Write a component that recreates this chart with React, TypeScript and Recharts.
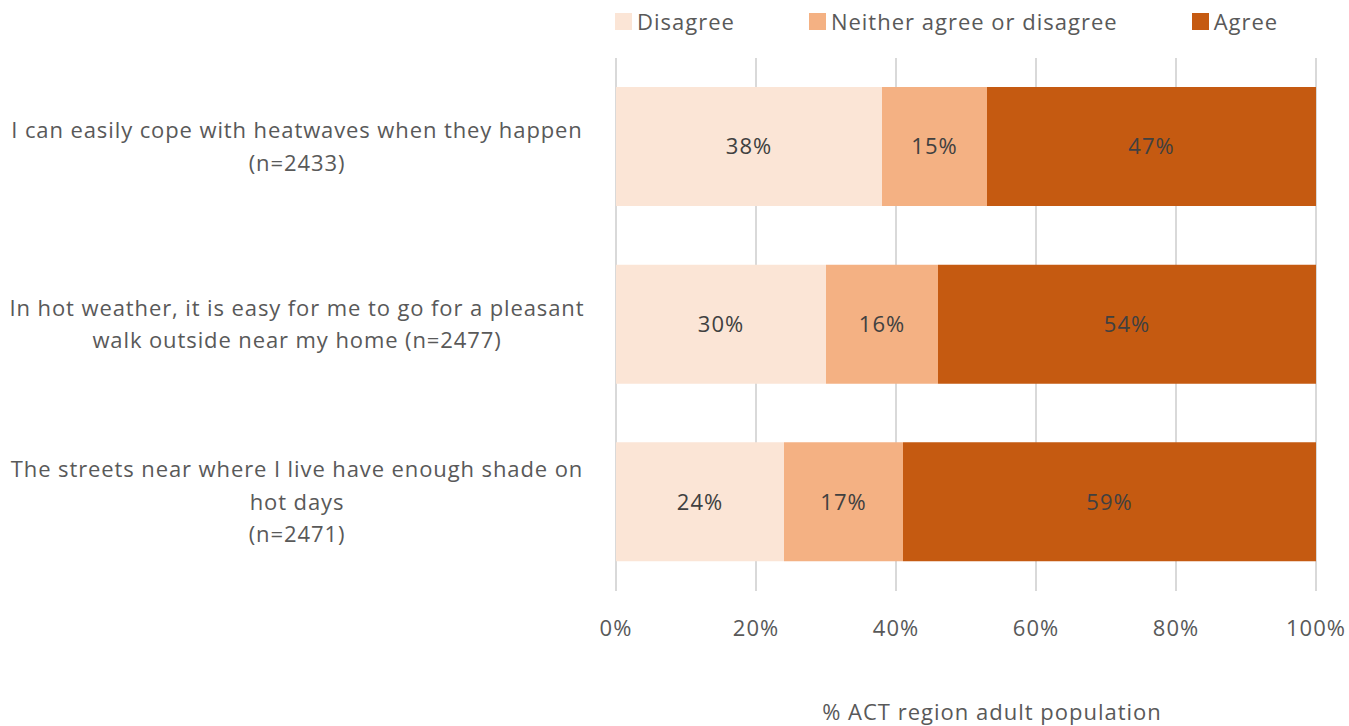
import React from 'react';
import { BarChart, Bar, XAxis, YAxis, CartesianGrid, Legend, LabelList } from 'recharts';

const statements = [
  'I can easily cope with heatwaves when they happen\n(n=2433)',
  'In hot weather, it is easy for me to go for a pleasant\nwalk outside near my home (n=2477)',
  'The streets near where I live have enough shade on\nhot days\n(n=2471)',
];
const disagree = [38, 30, 24];
const neither = [15, 16, 17];
const agree = [47, 54, 59];
const xTicks = [0, 20, 40, 60, 80, 100];

const seriesNames = ['Disagree', 'Neither agree or disagree', 'Agree'];
const colors = ['#FBE5D6', '#F4B183', '#C55A11'];

const data = statements.map((s, i) => ({
  statement: s,
  disagree: disagree[i],
  neither: neither[i],
  agree: agree[i],
}));

const FONT = '"Open Sans", sans-serif';
const TEXT = '#595959';
const FS = 22;
const LS = 1;

const StatementTick = (props: any) => {
  const { x, y, payload } = props;
  const lines = String(payload.value).split('\n');
  const lh = 32.5;
  const start = y - ((lines.length - 1) * lh) / 2;
  return (
    <text x={x - 317} y={start} textAnchor="middle" fill={TEXT} fontSize={FS} fontFamily={FONT} letterSpacing={0.9}>
      {lines.map((l, i) => (
        <tspan key={i} x={x - 317} y={start + i * lh} dy="0.35em">
          {l}
        </tspan>
      ))}
    </text>
  );
};

const LegendBox = () => (
  <div style={{ display: 'flex', alignItems: 'center', height: 26, paddingLeft: 615, fontFamily: FONT, fontSize: FS, color: TEXT, lineHeight: '26px', letterSpacing: LS, whiteSpace: 'nowrap' }}>
    {seriesNames.map((n, i) => (
      <div key={n} style={{ display: 'flex', alignItems: 'center', marginRight: 74, flexShrink: 0 }}>
        <span style={{ width: 17, height: 17, background: colors[i], marginRight: 5, display: 'inline-block', flexShrink: 0 }} />
        <span>{n}</span>
      </div>
    ))}
  </div>
);

const AxisTitle = (props: any) => {
  const { viewBox } = props;
  return (
    <text x={viewBox.x + viewBox.width / 2 + 26} y={711} textAnchor="middle" dominantBaseline="central" fill={TEXT} fontSize={FS} fontFamily={FONT} letterSpacing={LS}>
      % ACT region adult population
    </text>
  );
};

const pct = (v: any) => `${v}%`;

export default function App() {
  return (
    <div style={{ position: 'absolute', left: 0, top: 0, background: '#fff' }}>
      <BarChart
        width={1349}
        height={726}
        data={data}
        layout="vertical"
        margin={{ top: 32, right: 33, bottom: 95, left: 0 }}
      >
        <CartesianGrid horizontal={false} stroke="#D9D9D9" strokeWidth={2} />
        <XAxis
          type="number"
          domain={[0, 100]}
          ticks={xTicks}
          tickFormatter={pct}
          axisLine={false}
          tickLine={false}
          tickSize={0}
          tickMargin={29}
          height={40}
          tick={{ fill: TEXT, fontSize: FS, fontFamily: FONT, letterSpacing: LS }}
          label={<AxisTitle />}
        />
        <YAxis
          type="category"
          dataKey="statement"
          width={616}
          axisLine={false}
          tickLine={false}
          tickSize={0}
          tick={<StatementTick />}
        />
        <Legend verticalAlign="top" wrapperStyle={{ top: 8, left: 0, width: 1349, height: 26 }} content={<LegendBox />} />
        <Bar dataKey="disagree" name={seriesNames[0]} stackId="a" fill={colors[0]} barSize={119} isAnimationActive={false}>
          <LabelList dataKey="disagree" position="center" formatter={pct} fill="#404040" fontSize={FS} fontFamily={FONT} letterSpacing={LS} />
        </Bar>
        <Bar dataKey="neither" name={seriesNames[1]} stackId="a" fill={colors[1]} barSize={119} isAnimationActive={false}>
          <LabelList dataKey="neither" position="center" formatter={pct} fill="#404040" fontSize={FS} fontFamily={FONT} letterSpacing={LS} />
        </Bar>
        <Bar dataKey="agree" name={seriesNames[2]} stackId="a" fill={colors[2]} barSize={119} isAnimationActive={false}>
          <LabelList dataKey="agree" position="center" formatter={pct} fill="#404040" fontSize={FS} fontFamily={FONT} letterSpacing={LS} />
        </Bar>
      </BarChart>
    </div>
  );
}
